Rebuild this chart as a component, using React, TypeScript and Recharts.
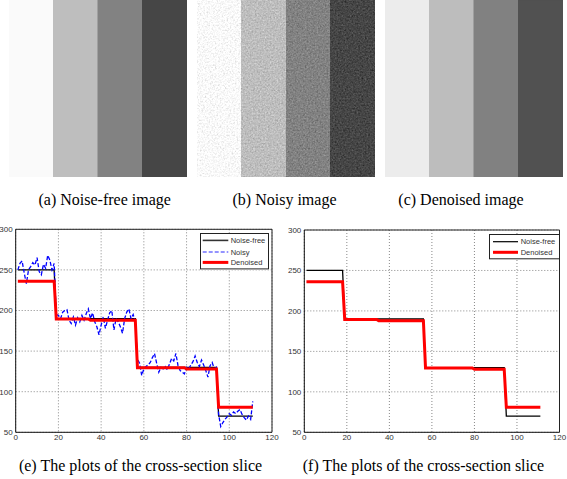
import {
  Bar,
  BarChart,
  CartesianGrid,
  Cell,
  Line,
  LineChart,
  ReferenceLine,
  XAxis,
  YAxis,
} from "recharts";

// gray levels of the four stripes (0-255)
const stripeNames = ["s1", "s2", "s3", "s4"];
const noiseFreeLevels = [250, 190, 130, 70];
const denoisedLevels = [236, 189, 129, 81];

// cross-section slice, vertices of the step profiles
const noiseFreeX = [1, 18, 19, 56, 57, 94, 95, 111];
const noiseFreeY = [250, 250, 190, 190, 130, 130, 70, 70];
const denoisedX = [1, 18, 19, 34, 35, 56, 57, 79, 80, 94, 95, 111];
const denoisedY = [236, 236, 189.5, 189.5, 188, 188, 129.5, 129.5, 128, 128, 81, 81];

// noisy slice, one value per column 1..111
const noisyY = [
  250, 258, 261, 246, 233, 250, 254, 259, 256, 265, 248, 244, 257, 252, 268, 262, 250, 258,
  195, 194, 190, 198, 200, 201, 188, 184, 192, 182, 191, 186, 194, 188, 196, 202, 190, 197,
  186, 180, 170, 182, 192, 178, 188, 197, 200, 176, 190, 186, 180, 172, 190, 198, 202, 190,
  195, 186,
  140, 135, 120, 128, 131, 133, 136, 142, 147, 135, 124, 130, 128, 131, 127, 134, 141, 138,
  147, 132, 126, 124, 122, 130, 128, 133, 137, 144, 136, 131, 139, 133, 126, 118, 132, 136,
  128, 130,
  72, 57, 62, 66, 69, 73, 71, 75, 73, 76, 78, 72, 68, 65, 70, 66, 88,
];

const xTicks = [0, 20, 40, 60, 80, 100, 120];
const yTicks = [50, 100, 150, 200, 250, 300];

const noiseFree = noiseFreeX.map((x, i) => ({ x, y: noiseFreeY[i] }));
const denoised = denoisedX.map((x, i) => ({ x, y: denoisedY[i] }));
const noisy = noisyY.map((y, i) => ({ x: i + 1, y }));

const gray = (v: number) => `rgb(${v},${v},${v})`;

const serif = "'Liberation Serif', 'Times New Roman', serif";
const sans = "'Liberation Sans', Arial, sans-serif";

type LegendItem = { label: string; stroke: string; width: number; dash?: string };

const legendFull: LegendItem[] = [
  { label: "Noise-free", stroke: "#333", width: 1.6 },
  { label: "Noisy", stroke: "#7070ff", width: 1.6, dash: "4 2" },
  { label: "Denoised", stroke: "#ff0000", width: 3 },
];
const legendShort: LegendItem[] = [
  { label: "Noise-free", stroke: "#000", width: 1.2 },
  { label: "Denoised", stroke: "#ff0000", width: 3 },
];

function StripeImage({ levels, left, noise }: { levels: number[]; left: number; noise?: boolean }) {
  const data = stripeNames.map((name, i) => ({ name, full: 1, level: levels[i] }));
  return (
    <div style={{ position: "absolute", left, top: 0 }}>
      <BarChart
        width={178}
        height={177}
        data={data}
        margin={{ top: 0, right: 0, bottom: 0, left: 0 }}
        barCategoryGap={0}
      >
        <XAxis dataKey="name" hide />
        <YAxis hide domain={[0, 1]} />
        <Bar dataKey="full" isAnimationActive={false}>
          {data.map((d) => (
            <Cell
              key={d.name}
              fill={gray(d.level)}
              stroke={gray(d.level)}
              strokeWidth={1}
              filter={noise ? "url(#grain)" : undefined}
            />
          ))}
        </Bar>
      </BarChart>
    </div>
  );
}

function BoxLegend({
  items,
  left,
  top,
  width,
  rows,
  lineX,
  textX,
}: {
  items: LegendItem[];
  left: number;
  top: number;
  width: number;
  rows: number[];
  lineX: [number, number];
  textX: number;
}) {
  const height = rows[rows.length - 1] + 7;
  return (
    <svg
      width={width}
      height={height}
      style={{ position: "absolute", left, top, background: "#fff", overflow: "visible" }}
    >
      <rect x={0.5} y={0.5} width={width - 1} height={height - 1} fill="#fff" stroke="#222" />
      {items.map((it, i) => (
        <g key={it.label}>
          <line
            x1={lineX[0]}
            x2={lineX[1]}
            y1={rows[i]}
            y2={rows[i]}
            stroke={it.stroke}
            strokeWidth={it.width}
            strokeDasharray={it.dash}
          />
          <text x={textX} y={rows[i]} dy="0.35em" fontSize={7.5} fontFamily={sans} fill="#333">
            {it.label}
          </text>
        </g>
      ))}
    </svg>
  );
}

function SliceChart({
  left,
  width,
  axisWidth,
  right,
  top,
  showNoisy,
}: {
  left: number;
  width: number;
  axisWidth: number;
  right: number;
  top: number;
  showNoisy: boolean;
}) {
  const tick = { fontSize: 8, fill: "#333", fontFamily: sans };
  return (
    <div style={{ position: "absolute", left, top: 220 }}>
      <LineChart width={width} height={240} margin={{ top, right, bottom: 7.7, left: 0 }}>
        <CartesianGrid stroke="#888" strokeDasharray="1 2" />
        <XAxis
          type="number"
          dataKey="x"
          domain={[0, 120]}
          ticks={xTicks}
          height={20}
          axisLine={{ stroke: "#111" }}
          tickLine={false}
          tickSize={0}
          tickMargin={2}
          tick={tick}
          allowDataOverflow
        />
        <YAxis
          type="number"
          dataKey="y"
          domain={[50, 300]}
          ticks={yTicks}
          width={axisWidth}
          axisLine={{ stroke: "#111" }}
          tickLine={false}
          tickSize={0}
          tickMargin={3}
          tick={tick}
          allowDataOverflow
        />
        <ReferenceLine y={300} stroke="#222" />
        <ReferenceLine x={120} stroke="#222" />
        <Line
          data={noiseFree}
          dataKey="y"
          type="linear"
          stroke="#000"
          strokeWidth={1.3}
          dot={false}
          isAnimationActive={false}
        />
        {showNoisy && (
          <Line
            data={noisy}
            dataKey="y"
            type="linear"
            stroke="#0000ff"
            strokeWidth={1.3}
            strokeDasharray="4 2"
            dot={false}
            isAnimationActive={false}
          />
        )}
        <Line
          data={denoised}
          dataKey="y"
          type="linear"
          stroke="#ff0000"
          strokeWidth={3}
          dot={false}
          isAnimationActive={false}
        />
      </LineChart>
    </div>
  );
}

export default function App() {
  return (
    <div
      style={{
        position: "absolute",
        left: 0,
        top: 0,
        width: 567,
        height: 479,
        background: "#fff",
        overflow: "hidden",
      }}
    >
      <svg width={0} height={0} style={{ position: "absolute" }}>
        <defs>
          <filter id="grain" x="0" y="0" width="100%" height="100%" colorInterpolationFilters="sRGB">
            <feTurbulence type="fractalNoise" baseFrequency="0.6" numOctaves={2} seed={7} result="t" />
            <feColorMatrix
              in="t"
              type="matrix"
              values="0.33 0.33 0.33 0 0  0.33 0.33 0.33 0 0  0.33 0.33 0.33 0 0  0 0 0 0 1"
              result="g"
            />
            <feComposite in="SourceGraphic" in2="g" operator="arithmetic" k1={0} k2={1} k3={0.5} k4={-0.25} />
          </filter>
        </defs>
      </svg>

      <StripeImage levels={noiseFreeLevels} left={9} />
      <StripeImage levels={noiseFreeLevels} left={197} noise />
      <StripeImage levels={denoisedLevels} left={385} />

      <SliceChart left={0} width={290} axisWidth={15.7} right={18} top={9.3} showNoisy />
      <SliceChart left={285} width={282} axisWidth={19.3} right={7.5} top={10} showNoisy={false} />

      <BoxLegend
        items={legendFull}
        left={200}
        top={233.3}
        width={69}
        rows={[7.4, 19, 29.4]}
        lineX={[2.7, 28.3]}
        textX={30.7}
      />
      <BoxLegend
        items={legendShort}
        left={489}
        top={234}
        width={71}
        rows={[7.7, 18.3]}
        lineX={[4, 29]}
        textX={31.7}
      />

      <svg width={567} height={479} style={{ position: "absolute", left: 0, top: 0, pointerEvents: "none" }}>
        <g fontFamily={serif} fontSize={16} fill="#000" textAnchor="middle">
          <text x={104.7} y={205}>(a) Noise-free image</text>
          <text x={284.5} y={205}>(b) Noisy image</text>
          <text x={461} y={205}>(c) Denoised image</text>
          <text x={140.5} y={471}>(e) The plots of the cross-section slice</text>
          <text x={423.5} y={471}>(f) The plots of the cross-section slice</text>
        </g>
      </svg>
    </div>
  );
}
